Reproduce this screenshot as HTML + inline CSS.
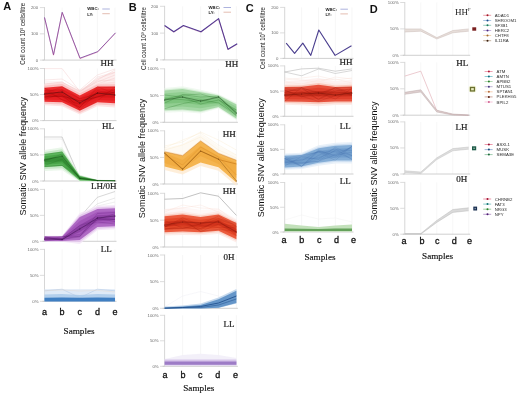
<!DOCTYPE html>
<html><head><meta charset="utf-8"><style>html,body{margin:0;padding:0;background:#fff;overflow:hidden}svg{display:block;will-change:transform}</style></head>
<body><svg width="520" height="394" viewBox="0 0 520 394"><rect x="0" y="0" width="520" height="394" fill="#fff"/>
<text x="3.2" y="10.4" font-family='"Liberation Sans", sans-serif' font-size="11" fill="#111" font-weight="bold" text-anchor="start" >A</text>
<text x="128.8" y="10.6" font-family='"Liberation Sans", sans-serif' font-size="11" fill="#111" font-weight="bold" text-anchor="start" >B</text>
<text x="245.8" y="12.3" font-family='"Liberation Sans", sans-serif' font-size="11" fill="#111" font-weight="bold" text-anchor="start" >C</text>
<text x="369.8" y="12.9" font-family='"Liberation Sans", sans-serif' font-size="11" fill="#111" font-weight="bold" text-anchor="start" >D</text>
<line x1="62.1" y1="7.6" x2="62.1" y2="60.1" stroke="#f0f0f0" stroke-width="0.6" opacity="1"/>
<line x1="79.8" y1="7.6" x2="79.8" y2="60.1" stroke="#f0f0f0" stroke-width="0.6" opacity="1"/>
<line x1="97.4" y1="7.6" x2="97.4" y2="60.1" stroke="#f0f0f0" stroke-width="0.6" opacity="1"/>
<line x1="115" y1="7.6" x2="115" y2="60.1" stroke="#f0f0f0" stroke-width="0.6" opacity="1"/>
<line x1="44.5" y1="7.1" x2="44.5" y2="60.1" stroke="#c4c4c4" stroke-width="0.7" opacity="1"/>
<line x1="42.5" y1="60.1" x2="116.5" y2="60.1" stroke="#c4c4c4" stroke-width="0.8" opacity="1"/>
<line x1="39.9" y1="7.6" x2="44.2" y2="7.6" stroke="#c4c4c4" stroke-width="0.6" opacity="1"/>
<text x="38.1" y="9.1" font-family='"Liberation Sans", sans-serif' font-size="4.3" fill="#6a6a6a" font-weight="normal" text-anchor="end" >200</text>
<line x1="39.9" y1="33.85" x2="44.2" y2="33.85" stroke="#c4c4c4" stroke-width="0.6" opacity="1"/>
<text x="38.1" y="35.35" font-family='"Liberation Sans", sans-serif' font-size="4.3" fill="#6a6a6a" font-weight="normal" text-anchor="end" >100</text>
<line x1="39.9" y1="60.1" x2="44.2" y2="60.1" stroke="#c4c4c4" stroke-width="0.6" opacity="1"/>
<text x="38.1" y="61.6" font-family='"Liberation Sans", sans-serif' font-size="4.3" fill="#6a6a6a" font-weight="normal" text-anchor="end" >0</text>
<polyline points="44.5,17.4 53.5,54.8 62.2,12.3 80,58.2 97.8,51.6 115.5,32.8" fill="none" stroke="#7a50a8" stroke-width="0.9" opacity="1" stroke-linejoin="round"/>
<polyline points="44.5,17.85 53.5,55.25 62.2,12.75 80,58.65 97.8,52.05 115.5,33.25" fill="none" stroke="#c84078" stroke-width="0.5" opacity="0.6" stroke-linejoin="round"/>
<text x="87.3" y="10.3" font-family='"Liberation Sans", sans-serif' font-size="4.3" fill="#222" font-weight="bold" text-anchor="start" >WBC:</text>
<text x="87.3" y="15.5" font-family='"Liberation Sans", sans-serif' font-size="4.3" fill="#222" font-weight="bold" text-anchor="start" >LY:</text>
<line x1="102.3" y1="9" x2="109.8" y2="9" stroke="#8a92d0" stroke-width="0.7" opacity="1"/>
<line x1="102.3" y1="13.7" x2="109.8" y2="13.7" stroke="#d8a090" stroke-width="0.7" opacity="1"/>
<text transform="translate(25.1,33.8) rotate(-90)" font-family='"Liberation Sans", sans-serif' font-size="6.5" fill="#1a1a1a" text-anchor="middle" textLength="62" lengthAdjust="spacingAndGlyphs">Cell count 10<tspan font-size="4" dy="-2.2">9</tspan><tspan dy="2.2"> cells/litre</tspan></text>
<text x="113.4" y="66.3" font-family='"Liberation Serif", serif' font-size="9" fill="#222" font-weight="normal" text-anchor="end" stroke="#222" stroke-width="0.2">HH</text>
<line x1="62.1" y1="68.5" x2="62.1" y2="120.6" stroke="#f0f0f0" stroke-width="0.6" opacity="1"/>
<line x1="79.8" y1="68.5" x2="79.8" y2="120.6" stroke="#f0f0f0" stroke-width="0.6" opacity="1"/>
<line x1="97.4" y1="68.5" x2="97.4" y2="120.6" stroke="#f0f0f0" stroke-width="0.6" opacity="1"/>
<line x1="115" y1="68.5" x2="115" y2="120.6" stroke="#f0f0f0" stroke-width="0.6" opacity="1"/>
<line x1="44.5" y1="68" x2="44.5" y2="120.6" stroke="#c4c4c4" stroke-width="0.7" opacity="1"/>
<line x1="42.5" y1="120.6" x2="116.5" y2="120.6" stroke="#c4c4c4" stroke-width="0.8" opacity="1"/>
<line x1="39.9" y1="68.5" x2="44.2" y2="68.5" stroke="#c4c4c4" stroke-width="0.6" opacity="1"/>
<text x="38.5" y="70" font-family='"Liberation Sans", sans-serif' font-size="4.3" fill="#6a6a6a" font-weight="normal" text-anchor="end" >100%</text>
<line x1="39.9" y1="94.55" x2="44.2" y2="94.55" stroke="#c4c4c4" stroke-width="0.6" opacity="1"/>
<text x="38.5" y="96.05" font-family='"Liberation Sans", sans-serif' font-size="4.3" fill="#6a6a6a" font-weight="normal" text-anchor="end" >50%</text>
<line x1="39.9" y1="120.6" x2="44.2" y2="120.6" stroke="#c4c4c4" stroke-width="0.6" opacity="1"/>
<text x="38.5" y="122.1" font-family='"Liberation Sans", sans-serif' font-size="4.3" fill="#6a6a6a" font-weight="normal" text-anchor="end" >0%</text>
<polygon points="44.5,84 62.1,82 79.8,90 97.4,79 115,72 115,87 97.4,87 79.8,96 62.1,87 44.5,88" fill="#fdeaea" opacity="0.9"/>
<polygon points="79.8,91 97.4,78.4 115,71.5 115,86 97.4,86 79.8,92" fill="#fdf0f0" opacity="0.9"/>
<polyline points="44.5,68.6 62.1,68.6 79.8,91.5 97.4,78.4 115,72.6" fill="none" stroke="#f2c0c0" stroke-width="0.45" opacity="0.8" stroke-linejoin="round"/>
<polyline points="44.5,80 62.1,79 79.8,90 97.4,75 115,69" fill="none" stroke="#f2c0c0" stroke-width="0.45" opacity="0.8" stroke-linejoin="round"/>
<polyline points="44.5,86 62.1,84 79.8,92 97.4,80 115,70" fill="none" stroke="#f2c0c0" stroke-width="0.45" opacity="0.8" stroke-linejoin="round"/>
<polyline points="44.5,85 62.1,84 79.8,94 97.4,84 115,78" fill="none" stroke="#f2c0c0" stroke-width="0.45" opacity="0.8" stroke-linejoin="round"/>
<polyline points="44.5,86 62.1,85 79.8,93 97.4,77 115,72" fill="none" stroke="#f2c0c0" stroke-width="0.45" opacity="0.8" stroke-linejoin="round"/>
<polyline points="44.5,84 62.1,83 79.8,91 97.4,82 115,75" fill="none" stroke="#f2c0c0" stroke-width="0.45" opacity="0.8" stroke-linejoin="round"/>
<polyline points="44.5,82 62.1,82 79.8,92 97.4,85 115,82" fill="none" stroke="#f2c0c0" stroke-width="0.45" opacity="0.8" stroke-linejoin="round"/>
<polyline points="44.5,84 62.1,82 79.8,93 97.4,81 115,80" fill="none" stroke="#f2c0c0" stroke-width="0.45" opacity="0.8" stroke-linejoin="round"/>
<polygon points="44.5,84.32 62.1,82.3 79.8,91.68 97.4,82.67 115,82.32 115,107.38 97.4,106.22 79.8,114.62 62.1,106.3 44.5,105.18" fill="#fde0e0" opacity="0.8"/>
<polygon points="44.5,85.85 62.1,84.06 79.8,93.36 97.4,84.4 115,84.16 115,105.54 97.4,104.5 79.8,112.94 62.1,104.54 44.5,103.65" fill="#f8b0b0" opacity="0.6"/>
<polygon points="44.5,87.8 62.1,86.3 79.8,95.5 97.4,86.6 115,86.5 115,103.2 97.4,102.3 79.8,110.8 62.1,102.3 44.5,101.7" fill="#ea1c1e" opacity="0.9"/>
<polygon points="44.5,89.88 62.1,88.7 79.8,97.8 97.4,88.95 115,89 115,100.69 97.4,99.94 79.8,108.51 62.1,99.9 44.5,99.62" fill="#e01216" opacity="0.5"/>
<polygon points="44.5,92.32 62.1,91.5 79.8,100.47 97.4,91.7 115,91.93 115,97.77 97.4,97.2 79.8,105.83 62.1,97.1 44.5,97.18" fill="#b80808" opacity="0.3"/>
<polyline points="44.5,89.67 62.1,99.86 79.8,107.19 97.4,90.6 115,94.77" fill="none" stroke="#a00000" stroke-width="0.4" opacity="0.4" stroke-linejoin="round"/>
<polyline points="44.5,94.05 62.1,96.73 79.8,107.57 97.4,88.07 115,86.97" fill="none" stroke="#a00000" stroke-width="0.4" opacity="0.4" stroke-linejoin="round"/>
<polyline points="44.5,99.42 62.1,93.22 79.8,107.16 97.4,86.63 115,93.94" fill="none" stroke="#a00000" stroke-width="0.4" opacity="0.4" stroke-linejoin="round"/>
<polyline points="44.5,97.83 62.1,89.96 79.8,109.96 97.4,100.75 115,87.01" fill="none" stroke="#a00000" stroke-width="0.4" opacity="0.4" stroke-linejoin="round"/>
<polyline points="44.5,88.15 62.1,94.96 79.8,109.87 97.4,92.58 115,90.12" fill="none" stroke="#a00000" stroke-width="0.4" opacity="0.4" stroke-linejoin="round"/>
<polyline points="44.5,93.67 62.1,86.76 79.8,98.89 97.4,93.47 115,94.78" fill="none" stroke="#a00000" stroke-width="0.4" opacity="0.4" stroke-linejoin="round"/>
<polyline points="44.5,91.04 62.1,89.99 79.8,98.85 97.4,93.82 115,91.34" fill="none" stroke="#a00000" stroke-width="0.4" opacity="0.4" stroke-linejoin="round"/>
<polyline points="44.5,88.1 62.1,99.7 79.8,104.01 97.4,96.68 115,89.6" fill="none" stroke="#a00000" stroke-width="0.4" opacity="0.4" stroke-linejoin="round"/>
<polyline points="44.5,94 62.1,92 79.8,103 97.4,93 115,95" fill="none" stroke="#2a1010" stroke-width="0.5" opacity="0.85" stroke-linejoin="round"/>
<circle cx="44.5" cy="94" r="0.6" fill="#2a1010" opacity="0.85"/>
<circle cx="62.1" cy="92" r="0.6" fill="#2a1010" opacity="0.85"/>
<circle cx="79.8" cy="103" r="0.6" fill="#2a1010" opacity="0.85"/>
<circle cx="97.4" cy="93" r="0.6" fill="#2a1010" opacity="0.85"/>
<circle cx="115" cy="95" r="0.6" fill="#2a1010" opacity="0.85"/>
<polyline points="44.5,97 62.1,96 79.8,101 97.4,97 115,92" fill="none" stroke="#500000" stroke-width="0.4" opacity="0.6" stroke-linejoin="round"/>
<text x="113.9" y="128.5" font-family='"Liberation Serif", serif' font-size="9" fill="#222" font-weight="normal" text-anchor="end" stroke="#222" stroke-width="0.2">HL</text>
<line x1="62.1" y1="128.8" x2="62.1" y2="181" stroke="#f0f0f0" stroke-width="0.6" opacity="1"/>
<line x1="79.8" y1="128.8" x2="79.8" y2="181" stroke="#f0f0f0" stroke-width="0.6" opacity="1"/>
<line x1="97.4" y1="128.8" x2="97.4" y2="181" stroke="#f0f0f0" stroke-width="0.6" opacity="1"/>
<line x1="115" y1="128.8" x2="115" y2="181" stroke="#f0f0f0" stroke-width="0.6" opacity="1"/>
<line x1="44.5" y1="128.3" x2="44.5" y2="181" stroke="#c4c4c4" stroke-width="0.7" opacity="1"/>
<line x1="42.5" y1="181" x2="116.5" y2="181" stroke="#c4c4c4" stroke-width="0.8" opacity="1"/>
<line x1="39.9" y1="128.8" x2="44.2" y2="128.8" stroke="#c4c4c4" stroke-width="0.6" opacity="1"/>
<text x="38.5" y="130.3" font-family='"Liberation Sans", sans-serif' font-size="4.3" fill="#6a6a6a" font-weight="normal" text-anchor="end" >100%</text>
<line x1="39.9" y1="154.9" x2="44.2" y2="154.9" stroke="#c4c4c4" stroke-width="0.6" opacity="1"/>
<text x="38.5" y="156.4" font-family='"Liberation Sans", sans-serif' font-size="4.3" fill="#6a6a6a" font-weight="normal" text-anchor="end" >50%</text>
<line x1="39.9" y1="181" x2="44.2" y2="181" stroke="#c4c4c4" stroke-width="0.6" opacity="1"/>
<text x="38.5" y="182.5" font-family='"Liberation Sans", sans-serif' font-size="4.3" fill="#6a6a6a" font-weight="normal" text-anchor="end" >0%</text>
<polyline points="44.5,137 62.1,137 79.8,178 97.4,180.5 115,181" fill="none" stroke="#a0a0a0" stroke-width="0.5" opacity="0.9" stroke-linejoin="round"/>
<polyline points="44.5,139 62.1,139 79.8,178 97.4,180.5 115,181" fill="none" stroke="#d0d0d0" stroke-width="0.5" opacity="0.7" stroke-linejoin="round"/>
<polygon points="44.5,150.1 62.1,147.15 79.8,174.68 97.4,179.96 115,180.35 115,181.15 97.4,181.24 79.8,181.72 62.1,170.35 44.5,170.9" fill="#e4f4e4" opacity="0.8"/>
<polygon points="44.5,152.05 62.1,149.32 79.8,175.34 97.4,180.08 115,180.43 115,181.07 97.4,181.12 79.8,181.06 62.1,168.18 44.5,168.95" fill="#b0e0b0" opacity="0.6"/>
<polygon points="44.5,154 62.1,151.5 79.8,176 97.4,180.2 115,180.5 115,181 97.4,181 79.8,180.4 62.1,166 44.5,167" fill="#4aac4a" opacity="0.85"/>
<polygon points="44.5,156.28 62.1,154.04 79.8,176.77 97.4,180.34 115,180.59 115,180.91 97.4,180.86 79.8,179.63 62.1,163.46 44.5,164.72" fill="#2e922e" opacity="0.45"/>
<polygon points="44.5,158.55 62.1,156.57 79.8,177.54 97.4,180.48 115,180.68 115,180.82 97.4,180.72 79.8,178.86 62.1,160.93 44.5,162.45" fill="#1a6a1a" opacity="0.35"/>
<polyline points="44.5,166.43 62.1,165.24 79.8,176.25 97.4,180.27 115,180.92" fill="none" stroke="#106010" stroke-width="0.4" opacity="0.4" stroke-linejoin="round"/>
<polyline points="44.5,163.57 62.1,161.21 79.8,177.36 97.4,180.68 115,180.8" fill="none" stroke="#106010" stroke-width="0.4" opacity="0.4" stroke-linejoin="round"/>
<polyline points="44.5,161.56 62.1,153.8 79.8,177.89 97.4,180.51 115,180.86" fill="none" stroke="#106010" stroke-width="0.4" opacity="0.4" stroke-linejoin="round"/>
<polyline points="44.5,166.93 62.1,165.27 79.8,178.39 97.4,180.56 115,180.63" fill="none" stroke="#106010" stroke-width="0.4" opacity="0.4" stroke-linejoin="round"/>
<polyline points="44.5,154.47 62.1,151.9 79.8,178.05 97.4,180.45 115,180.69" fill="none" stroke="#106010" stroke-width="0.4" opacity="0.4" stroke-linejoin="round"/>
<polyline points="44.5,165.59 62.1,159.12 79.8,178.47 97.4,180.39 115,180.51" fill="none" stroke="#106010" stroke-width="0.4" opacity="0.4" stroke-linejoin="round"/>
<polyline points="44.5,160 62.1,156 79.8,178.5 97.4,180.6 115,180.8" fill="none" stroke="#0a300a" stroke-width="0.45" opacity="0.7" stroke-linejoin="round"/>
<circle cx="44.5" cy="160" r="0.6" fill="#0a300a" opacity="0.7"/>
<circle cx="62.1" cy="156" r="0.6" fill="#0a300a" opacity="0.7"/>
<circle cx="79.8" cy="178.5" r="0.6" fill="#0a300a" opacity="0.7"/>
<circle cx="97.4" cy="180.6" r="0.6" fill="#0a300a" opacity="0.7"/>
<circle cx="115" cy="180.8" r="0.6" fill="#0a300a" opacity="0.7"/>
<text x="116.6" y="188.6" font-family='"Liberation Serif", serif' font-size="9" fill="#222" font-weight="normal" text-anchor="end" stroke="#222" stroke-width="0.2">LH/0H</text>
<line x1="62.1" y1="189.4" x2="62.1" y2="241.3" stroke="#f0f0f0" stroke-width="0.6" opacity="1"/>
<line x1="79.8" y1="189.4" x2="79.8" y2="241.3" stroke="#f0f0f0" stroke-width="0.6" opacity="1"/>
<line x1="97.4" y1="189.4" x2="97.4" y2="241.3" stroke="#f0f0f0" stroke-width="0.6" opacity="1"/>
<line x1="115" y1="189.4" x2="115" y2="241.3" stroke="#f0f0f0" stroke-width="0.6" opacity="1"/>
<line x1="44.5" y1="188.9" x2="44.5" y2="241.3" stroke="#c4c4c4" stroke-width="0.7" opacity="1"/>
<line x1="42.5" y1="241.3" x2="116.5" y2="241.3" stroke="#c4c4c4" stroke-width="0.8" opacity="1"/>
<line x1="39.9" y1="189.4" x2="44.2" y2="189.4" stroke="#c4c4c4" stroke-width="0.6" opacity="1"/>
<text x="38.5" y="190.9" font-family='"Liberation Sans", sans-serif' font-size="4.3" fill="#6a6a6a" font-weight="normal" text-anchor="end" >100%</text>
<line x1="39.9" y1="215.35" x2="44.2" y2="215.35" stroke="#c4c4c4" stroke-width="0.6" opacity="1"/>
<text x="38.5" y="216.85" font-family='"Liberation Sans", sans-serif' font-size="4.3" fill="#6a6a6a" font-weight="normal" text-anchor="end" >50%</text>
<line x1="39.9" y1="241.3" x2="44.2" y2="241.3" stroke="#c4c4c4" stroke-width="0.6" opacity="1"/>
<text x="38.5" y="242.8" font-family='"Liberation Sans", sans-serif' font-size="4.3" fill="#6a6a6a" font-weight="normal" text-anchor="end" >0%</text>
<polyline points="44.5,239 62.1,239 79.8,217 97.4,197.3 115,191.5" fill="none" stroke="#a8a8a8" stroke-width="0.5" opacity="0.9" stroke-linejoin="round"/>
<polyline points="44.5,239 62.1,239 79.8,219 97.4,203.8 115,198" fill="none" stroke="#c8c8c8" stroke-width="0.5" opacity="0.8" stroke-linejoin="round"/>
<polyline points="44.5,239 62.1,239 79.8,221 97.4,206 115,202" fill="none" stroke="#dadada" stroke-width="0.5" opacity="0.8" stroke-linejoin="round"/>
<polygon points="44.5,235.71 62.1,235.71 79.8,212.97 97.4,205.73 115,205.05 115,229.35 97.4,230.17 79.8,244.03 62.1,241.79 44.5,241.79" fill="#f2e4f6" opacity="0.8"/>
<polygon points="44.5,236.09 62.1,236.09 79.8,214.93 97.4,207.27 115,206.58 115,227.82 97.4,228.63 79.8,242.07 62.1,241.41 44.5,241.41" fill="#dcb8e8" opacity="0.6"/>
<polygon points="44.5,236.5 62.1,236.5 79.8,217 97.4,208.9 115,208.2 115,226.2 97.4,227 79.8,240 62.1,241 44.5,241" fill="#a558bc" opacity="0.85"/>
<polygon points="44.5,237.29 62.1,237.29 79.8,221.03 97.4,212.07 115,211.35 115,223.05 97.4,223.83 79.8,235.97 62.1,240.21 44.5,240.21" fill="#9844b0" opacity="0.5"/>
<polygon points="44.5,238.07 62.1,238.07 79.8,225.05 97.4,215.23 115,214.5 115,219.9 97.4,220.66 79.8,231.95 62.1,239.43 44.5,239.43" fill="#6a2080" opacity="0.35"/>
<polyline points="44.5,237.57 62.1,238.95 79.8,225.51 97.4,219.83 115,219.46" fill="none" stroke="#50106a" stroke-width="0.4" opacity="0.5" stroke-linejoin="round"/>
<polyline points="44.5,236.79 62.1,236.56 79.8,236.26 97.4,213.59 115,212.42" fill="none" stroke="#50106a" stroke-width="0.4" opacity="0.5" stroke-linejoin="round"/>
<polyline points="44.5,240.98 62.1,238.62 79.8,236.24 97.4,217.52 115,219.7" fill="none" stroke="#50106a" stroke-width="0.4" opacity="0.5" stroke-linejoin="round"/>
<polyline points="44.5,237.18 62.1,239.36 79.8,236.97 97.4,218.37 115,221.54" fill="none" stroke="#50106a" stroke-width="0.4" opacity="0.5" stroke-linejoin="round"/>
<polyline points="44.5,239.52 62.1,236.79 79.8,234.44 97.4,219.6 115,213.62" fill="none" stroke="#50106a" stroke-width="0.4" opacity="0.5" stroke-linejoin="round"/>
<polyline points="44.5,236.64 62.1,240.39 79.8,227.87 97.4,221.91 115,224.02" fill="none" stroke="#50106a" stroke-width="0.4" opacity="0.5" stroke-linejoin="round"/>
<polyline points="44.5,239 62.1,239.5 79.8,229 97.4,218 115,216" fill="none" stroke="#300840" stroke-width="0.5" opacity="0.85" stroke-linejoin="round"/>
<circle cx="44.5" cy="239" r="0.6" fill="#300840" opacity="0.85"/>
<circle cx="62.1" cy="239.5" r="0.6" fill="#300840" opacity="0.85"/>
<circle cx="79.8" cy="229" r="0.6" fill="#300840" opacity="0.85"/>
<circle cx="97.4" cy="218" r="0.6" fill="#300840" opacity="0.85"/>
<circle cx="115" cy="216" r="0.6" fill="#300840" opacity="0.85"/>
<text x="111.7" y="251.5" font-family='"Liberation Serif", serif' font-size="9" fill="#222" font-weight="normal" text-anchor="end" stroke="#222" stroke-width="0.2">LL</text>
<line x1="62.1" y1="249.4" x2="62.1" y2="301.3" stroke="#f0f0f0" stroke-width="0.6" opacity="1"/>
<line x1="79.8" y1="249.4" x2="79.8" y2="301.3" stroke="#f0f0f0" stroke-width="0.6" opacity="1"/>
<line x1="97.4" y1="249.4" x2="97.4" y2="301.3" stroke="#f0f0f0" stroke-width="0.6" opacity="1"/>
<line x1="115" y1="249.4" x2="115" y2="301.3" stroke="#f0f0f0" stroke-width="0.6" opacity="1"/>
<line x1="44.5" y1="248.9" x2="44.5" y2="301.3" stroke="#c4c4c4" stroke-width="0.7" opacity="1"/>
<line x1="42.5" y1="301.3" x2="116.5" y2="301.3" stroke="#c4c4c4" stroke-width="0.8" opacity="1"/>
<line x1="39.9" y1="249.4" x2="44.2" y2="249.4" stroke="#c4c4c4" stroke-width="0.6" opacity="1"/>
<text x="38.5" y="250.9" font-family='"Liberation Sans", sans-serif' font-size="4.3" fill="#6a6a6a" font-weight="normal" text-anchor="end" >100%</text>
<line x1="39.9" y1="275.35" x2="44.2" y2="275.35" stroke="#c4c4c4" stroke-width="0.6" opacity="1"/>
<text x="38.5" y="276.85" font-family='"Liberation Sans", sans-serif' font-size="4.3" fill="#6a6a6a" font-weight="normal" text-anchor="end" >50%</text>
<line x1="39.9" y1="301.3" x2="44.2" y2="301.3" stroke="#c4c4c4" stroke-width="0.6" opacity="1"/>
<text x="38.5" y="302.8" font-family='"Liberation Sans", sans-serif' font-size="4.3" fill="#6a6a6a" font-weight="normal" text-anchor="end" >0%</text>
<polygon points="44.5,289.2 62.1,289.2 79.8,289.2 97.4,289.2 115,289.2 115,301.3 97.4,301.3 79.8,301.3 62.1,301.3 44.5,301.3" fill="#dce8f6" opacity="0.9"/>
<polyline points="44.5,290.8 62.1,289.2 79.8,297.7 97.4,289.2 115,290.8" fill="none" stroke="#b0c8e4" stroke-width="0.6" opacity="0.9" stroke-linejoin="round"/>
<polyline points="44.5,290.8 62.1,290 79.8,291 97.4,290.4 115,292" fill="none" stroke="#e8d8c8" stroke-width="0.5" opacity="0.8" stroke-linejoin="round"/>
<polygon points="44.5,294.5 62.1,294 79.8,295 97.4,294 115,294.5 115,301.3 97.4,301.3 79.8,301.3 62.1,301.3 44.5,301.3" fill="#a8c8e8" opacity="0.8"/>
<polygon points="44.5,297.7 62.1,297.5 79.8,297.7 97.4,297.5 115,297.7 115,301.5 97.4,301.5 79.8,301.5 62.1,301.5 44.5,301.5" fill="#3a7ac0" opacity="0.95"/>
<text x="44.5" y="315.4" font-family='"Liberation Sans", sans-serif' font-size="9" fill="#111" font-weight="normal" text-anchor="middle" stroke="#111" stroke-width="0.3">a</text>
<text x="62.1" y="315.4" font-family='"Liberation Sans", sans-serif' font-size="9" fill="#111" font-weight="normal" text-anchor="middle" stroke="#111" stroke-width="0.3">b</text>
<text x="79.8" y="315.4" font-family='"Liberation Sans", sans-serif' font-size="9" fill="#111" font-weight="normal" text-anchor="middle" stroke="#111" stroke-width="0.3">c</text>
<text x="97.4" y="315.4" font-family='"Liberation Sans", sans-serif' font-size="9" fill="#111" font-weight="normal" text-anchor="middle" stroke="#111" stroke-width="0.3">d</text>
<text x="115" y="315.4" font-family='"Liberation Sans", sans-serif' font-size="9" fill="#111" font-weight="normal" text-anchor="middle" stroke="#111" stroke-width="0.3">e</text>
<text x="79.1" y="334.2" font-family='"Liberation Serif", serif' font-size="9.2" fill="#111" font-weight="normal" text-anchor="middle" stroke="#111" stroke-width="0.15">Samples</text>
<text transform="translate(26.4,156.2) rotate(-90)" font-family='"Liberation Sans", sans-serif' font-size="9" fill="#111" text-anchor="middle" textLength="118.4" lengthAdjust="spacingAndGlyphs">Somatic SNV allele frequency</text>
<line x1="182.6" y1="6.3" x2="182.6" y2="59.9" stroke="#f0f0f0" stroke-width="0.6" opacity="1"/>
<line x1="200.6" y1="6.3" x2="200.6" y2="59.9" stroke="#f0f0f0" stroke-width="0.6" opacity="1"/>
<line x1="218.5" y1="6.3" x2="218.5" y2="59.9" stroke="#f0f0f0" stroke-width="0.6" opacity="1"/>
<line x1="236.4" y1="6.3" x2="236.4" y2="59.9" stroke="#f0f0f0" stroke-width="0.6" opacity="1"/>
<line x1="164.6" y1="5.8" x2="164.6" y2="59.9" stroke="#c4c4c4" stroke-width="0.7" opacity="1"/>
<line x1="162.6" y1="59.9" x2="237.9" y2="59.9" stroke="#c4c4c4" stroke-width="0.8" opacity="1"/>
<line x1="160" y1="6.3" x2="164.3" y2="6.3" stroke="#c4c4c4" stroke-width="0.6" opacity="1"/>
<text x="158.2" y="7.8" font-family='"Liberation Sans", sans-serif' font-size="4.3" fill="#6a6a6a" font-weight="normal" text-anchor="end" >200</text>
<line x1="160" y1="33.1" x2="164.3" y2="33.1" stroke="#c4c4c4" stroke-width="0.6" opacity="1"/>
<text x="158.2" y="34.6" font-family='"Liberation Sans", sans-serif' font-size="4.3" fill="#6a6a6a" font-weight="normal" text-anchor="end" >100</text>
<line x1="160" y1="59.9" x2="164.3" y2="59.9" stroke="#c4c4c4" stroke-width="0.6" opacity="1"/>
<text x="158.2" y="61.4" font-family='"Liberation Sans", sans-serif' font-size="4.3" fill="#6a6a6a" font-weight="normal" text-anchor="end" >0</text>
<polyline points="164.6,25.5 173.8,31.8 183.4,25.5 201,31.8 218.6,18.6 228,49.3 237.2,43.8" fill="none" stroke="#4a3a98" stroke-width="1.1" opacity="1" stroke-linejoin="round"/>
<polyline points="164.6,25.95 173.8,32.25 183.4,25.95 201,32.25 218.6,19.05 228,49.75 237.2,44.25" fill="none" stroke="#903070" stroke-width="0.5" opacity="0.6" stroke-linejoin="round"/>
<text x="208.5" y="8.8" font-family='"Liberation Sans", sans-serif' font-size="4.3" fill="#222" font-weight="bold" text-anchor="start" >WBC:</text>
<text x="208.5" y="14" font-family='"Liberation Sans", sans-serif' font-size="4.3" fill="#222" font-weight="bold" text-anchor="start" >LY:</text>
<line x1="223.5" y1="7.5" x2="231" y2="7.5" stroke="#8a92d0" stroke-width="0.7" opacity="1"/>
<line x1="223.5" y1="12.2" x2="231" y2="12.2" stroke="#d8a090" stroke-width="0.7" opacity="1"/>
<text transform="translate(145.8,38.5) rotate(-90)" font-family='"Liberation Sans", sans-serif' font-size="6.5" fill="#1a1a1a" text-anchor="middle" textLength="63" lengthAdjust="spacingAndGlyphs">Cell count 10<tspan font-size="4" dy="-2.2">9</tspan><tspan dy="2.2"> cells/litre</tspan></text>
<text x="238.2" y="66.6" font-family='"Liberation Serif", serif' font-size="9" fill="#222" font-weight="normal" text-anchor="end" stroke="#222" stroke-width="0.2">HH</text>
<line x1="182.6" y1="68.8" x2="182.6" y2="122.3" stroke="#f0f0f0" stroke-width="0.6" opacity="1"/>
<line x1="200.6" y1="68.8" x2="200.6" y2="122.3" stroke="#f0f0f0" stroke-width="0.6" opacity="1"/>
<line x1="218.5" y1="68.8" x2="218.5" y2="122.3" stroke="#f0f0f0" stroke-width="0.6" opacity="1"/>
<line x1="236.4" y1="68.8" x2="236.4" y2="122.3" stroke="#f0f0f0" stroke-width="0.6" opacity="1"/>
<line x1="164.6" y1="68.3" x2="164.6" y2="122.3" stroke="#c4c4c4" stroke-width="0.7" opacity="1"/>
<line x1="162.6" y1="122.3" x2="237.9" y2="122.3" stroke="#c4c4c4" stroke-width="0.8" opacity="1"/>
<line x1="160" y1="68.8" x2="164.3" y2="68.8" stroke="#c4c4c4" stroke-width="0.6" opacity="1"/>
<text x="158.6" y="70.3" font-family='"Liberation Sans", sans-serif' font-size="4.3" fill="#6a6a6a" font-weight="normal" text-anchor="end" >100%</text>
<line x1="160" y1="95.55" x2="164.3" y2="95.55" stroke="#c4c4c4" stroke-width="0.6" opacity="1"/>
<text x="158.6" y="97.05" font-family='"Liberation Sans", sans-serif' font-size="4.3" fill="#6a6a6a" font-weight="normal" text-anchor="end" >50%</text>
<line x1="160" y1="122.3" x2="164.3" y2="122.3" stroke="#c4c4c4" stroke-width="0.6" opacity="1"/>
<text x="158.6" y="123.8" font-family='"Liberation Sans", sans-serif' font-size="4.3" fill="#6a6a6a" font-weight="normal" text-anchor="end" >0%</text>
<polygon points="164.6,88.03 182.6,86.33 200.6,89.83 218.5,94.06 236.4,102.85 236.4,120.35 218.5,108.44 200.6,113.58 182.6,112.08 164.6,112.78" fill="#ecf8ec" opacity="0.8"/>
<polygon points="164.6,89.51 182.6,87.87 200.6,91.25 218.5,94.92 236.4,103.9 236.4,119.3 218.5,107.58 200.6,112.15 182.6,110.53 164.6,111.29" fill="#cceacc" opacity="0.7"/>
<polygon points="164.6,90.5 182.6,88.9 200.6,92.2 218.5,95.5 236.4,104.6 236.4,118.6 218.5,107 200.6,111.2 182.6,109.5 164.6,110.3" fill="#9ad29a" opacity="0.8"/>
<polygon points="164.6,93.47 182.6,91.99 200.6,95.05 218.5,97.22 236.4,106.7 236.4,116.5 218.5,105.28 200.6,108.35 182.6,106.41 164.6,107.33" fill="#7cc47c" opacity="0.5"/>
<polygon points="164.6,96.94 182.6,95.59 200.6,98.38 218.5,99.24 236.4,109.15 236.4,114.05 218.5,103.26 200.6,105.03 182.6,102.81 164.6,103.87" fill="#5ab05a" opacity="0.35"/>
<polyline points="164.6,99.6 182.6,94.7 200.6,97.1 218.5,96.3 236.4,112" fill="none" stroke="#2a7a2a" stroke-width="0.45" opacity="0.65" stroke-linejoin="round"/>
<polyline points="164.6,108.7 182.6,103.7 200.6,100 218.5,103 236.4,115" fill="none" stroke="#2a7a2a" stroke-width="0.45" opacity="0.65" stroke-linejoin="round"/>
<polyline points="164.6,98.8 182.6,99.6 200.6,102 218.5,97 236.4,114.5" fill="none" stroke="#2a7a2a" stroke-width="0.45" opacity="0.65" stroke-linejoin="round"/>
<polyline points="164.6,95 182.6,97 200.6,104 218.5,100 236.4,110" fill="none" stroke="#2a7a2a" stroke-width="0.45" opacity="0.65" stroke-linejoin="round"/>
<polyline points="164.6,103 182.6,95 200.6,94 218.5,99 236.4,116" fill="none" stroke="#2a7a2a" stroke-width="0.45" opacity="0.65" stroke-linejoin="round"/>
<polyline points="164.6,100 182.6,97 200.6,101 218.5,97 236.4,113" fill="none" stroke="#0a300a" stroke-width="0.5" opacity="0.8" stroke-linejoin="round"/>
<circle cx="164.6" cy="100" r="0.6" fill="#0a300a" opacity="0.8"/>
<circle cx="182.6" cy="97" r="0.6" fill="#0a300a" opacity="0.8"/>
<circle cx="200.6" cy="101" r="0.6" fill="#0a300a" opacity="0.8"/>
<circle cx="218.5" cy="97" r="0.6" fill="#0a300a" opacity="0.8"/>
<circle cx="236.4" cy="113" r="0.6" fill="#0a300a" opacity="0.8"/>
<text x="235.8" y="137.4" font-family='"Liberation Serif", serif' font-size="9" fill="#222" font-weight="normal" text-anchor="end" stroke="#222" stroke-width="0.2">HH</text>
<line x1="182.6" y1="130.8" x2="182.6" y2="184" stroke="#f0f0f0" stroke-width="0.6" opacity="1"/>
<line x1="200.6" y1="130.8" x2="200.6" y2="184" stroke="#f0f0f0" stroke-width="0.6" opacity="1"/>
<line x1="218.5" y1="130.8" x2="218.5" y2="184" stroke="#f0f0f0" stroke-width="0.6" opacity="1"/>
<line x1="236.4" y1="130.8" x2="236.4" y2="184" stroke="#f0f0f0" stroke-width="0.6" opacity="1"/>
<line x1="164.6" y1="130.3" x2="164.6" y2="184" stroke="#c4c4c4" stroke-width="0.7" opacity="1"/>
<line x1="162.6" y1="184" x2="237.9" y2="184" stroke="#c4c4c4" stroke-width="0.8" opacity="1"/>
<line x1="160" y1="130.8" x2="164.3" y2="130.8" stroke="#c4c4c4" stroke-width="0.6" opacity="1"/>
<text x="158.6" y="132.3" font-family='"Liberation Sans", sans-serif' font-size="4.3" fill="#6a6a6a" font-weight="normal" text-anchor="end" >100%</text>
<line x1="160" y1="157.4" x2="164.3" y2="157.4" stroke="#c4c4c4" stroke-width="0.6" opacity="1"/>
<text x="158.6" y="158.9" font-family='"Liberation Sans", sans-serif' font-size="4.3" fill="#6a6a6a" font-weight="normal" text-anchor="end" >50%</text>
<line x1="160" y1="184" x2="164.3" y2="184" stroke="#c4c4c4" stroke-width="0.6" opacity="1"/>
<text x="158.6" y="185.5" font-family='"Liberation Sans", sans-serif' font-size="4.3" fill="#6a6a6a" font-weight="normal" text-anchor="end" >0%</text>
<polygon points="164.6,148 182.6,144 200.6,134 218.5,146 236.4,155 236.4,161 218.5,154 200.6,142 182.6,156 164.6,152" fill="#fef8ee" opacity="0.7"/>
<polyline points="164.6,148 182.6,140 200.6,133 218.5,145 236.4,155" fill="none" stroke="#fae4c4" stroke-width="0.45" opacity="0.7" stroke-linejoin="round"/>
<polyline points="164.6,150 182.6,145 200.6,137 218.5,150 236.4,158" fill="none" stroke="#fae4c4" stroke-width="0.45" opacity="0.7" stroke-linejoin="round"/>
<polyline points="164.6,146 182.6,142 200.6,132 218.5,140 236.4,150" fill="none" stroke="#fae4c4" stroke-width="0.45" opacity="0.7" stroke-linejoin="round"/>
<polygon points="164.6,150.6 182.6,154.5 200.6,139.8 218.5,152.2 236.4,159.1 236.4,186.1 218.5,170.7 200.6,166.1 182.6,174.5 164.6,170" fill="#fde8cc" opacity="0.75"/>
<polygon points="164.6,151.8 182.6,155.7 200.6,141 218.5,153.4 236.4,160.3 236.4,182.6 218.5,167.2 200.6,162.6 182.6,171 164.6,166.5" fill="#f4ae40" opacity="0.9"/>
<polygon points="164.6,153 182.6,160 200.6,146 218.5,156 236.4,163 236.4,178 218.5,164 200.6,156 182.6,169 164.6,163" fill="#ec9a28" opacity="0.35"/>
<polyline points="164.6,151.8 182.6,155.7 200.6,141 218.5,153.4 236.4,160.3" fill="none" stroke="#c07020" stroke-width="0.5" opacity="0.8" stroke-linejoin="round"/>
<polyline points="164.6,153.4 182.6,169.5 200.6,151 218.5,159.5 236.4,164" fill="none" stroke="#c87818" stroke-width="0.7" opacity="0.9" stroke-linejoin="round"/>
<polyline points="164.6,155 182.6,165 200.6,147 218.5,157 236.4,175" fill="none" stroke="#d88820" stroke-width="0.5" opacity="0.7" stroke-linejoin="round"/>
<polyline points="164.6,153 182.6,169 200.6,151 218.5,159 236.4,181" fill="none" stroke="#6a3a08" stroke-width="0.5" opacity="0.75" stroke-linejoin="round"/>
<circle cx="164.6" cy="153" r="0.6" fill="#6a3a08" opacity="0.75"/>
<circle cx="182.6" cy="169" r="0.6" fill="#6a3a08" opacity="0.75"/>
<circle cx="200.6" cy="151" r="0.6" fill="#6a3a08" opacity="0.75"/>
<circle cx="218.5" cy="159" r="0.6" fill="#6a3a08" opacity="0.75"/>
<circle cx="236.4" cy="181" r="0.6" fill="#6a3a08" opacity="0.75"/>
<text x="235.8" y="193.7" font-family='"Liberation Serif", serif' font-size="9" fill="#222" font-weight="normal" text-anchor="end" stroke="#222" stroke-width="0.2">HH</text>
<line x1="182.6" y1="193.3" x2="182.6" y2="247" stroke="#f0f0f0" stroke-width="0.6" opacity="1"/>
<line x1="200.6" y1="193.3" x2="200.6" y2="247" stroke="#f0f0f0" stroke-width="0.6" opacity="1"/>
<line x1="218.5" y1="193.3" x2="218.5" y2="247" stroke="#f0f0f0" stroke-width="0.6" opacity="1"/>
<line x1="236.4" y1="193.3" x2="236.4" y2="247" stroke="#f0f0f0" stroke-width="0.6" opacity="1"/>
<line x1="164.6" y1="192.8" x2="164.6" y2="247" stroke="#c4c4c4" stroke-width="0.7" opacity="1"/>
<line x1="162.6" y1="247" x2="237.9" y2="247" stroke="#c4c4c4" stroke-width="0.8" opacity="1"/>
<line x1="160" y1="193.3" x2="164.3" y2="193.3" stroke="#c4c4c4" stroke-width="0.6" opacity="1"/>
<text x="158.6" y="194.8" font-family='"Liberation Sans", sans-serif' font-size="4.3" fill="#6a6a6a" font-weight="normal" text-anchor="end" >100%</text>
<line x1="160" y1="220.15" x2="164.3" y2="220.15" stroke="#c4c4c4" stroke-width="0.6" opacity="1"/>
<text x="158.6" y="221.65" font-family='"Liberation Sans", sans-serif' font-size="4.3" fill="#6a6a6a" font-weight="normal" text-anchor="end" >50%</text>
<line x1="160" y1="247" x2="164.3" y2="247" stroke="#c4c4c4" stroke-width="0.6" opacity="1"/>
<text x="158.6" y="248.5" font-family='"Liberation Sans", sans-serif' font-size="4.3" fill="#6a6a6a" font-weight="normal" text-anchor="end" >0%</text>
<polyline points="164.6,199.2 182.6,198.5 200.6,192.8 218.5,196.2 236.4,215.4" fill="none" stroke="#909090" stroke-width="0.55" opacity="1" stroke-linejoin="round"/>
<polygon points="164.6,209 182.6,207 200.6,210 218.5,209 236.4,219 236.4,223 218.5,214.6 200.6,217 182.6,214.6 164.6,216" fill="#fef4f2" opacity="0.7"/>
<polyline points="164.6,212 182.6,205 200.6,208 218.5,209 236.4,222" fill="none" stroke="#f8d8d0" stroke-width="0.45" opacity="0.7" stroke-linejoin="round"/>
<polyline points="164.6,210 182.6,208 200.6,205 218.5,212 236.4,225" fill="none" stroke="#f8d8d0" stroke-width="0.45" opacity="0.7" stroke-linejoin="round"/>
<polygon points="164.6,212.98 182.6,211.22 200.6,213.94 218.5,211.36 236.4,219.76 236.4,242.44 218.5,234.04 200.6,235.36 182.6,234.88 164.6,235.52" fill="#fde8e4" opacity="0.8"/>
<polygon points="164.6,214.75 182.6,213.08 200.6,215.62 218.5,213.14 236.4,221.54 236.4,240.66 218.5,232.26 200.6,233.68 182.6,233.02 164.6,233.75" fill="#f8c0b0" opacity="0.6"/>
<polygon points="164.6,216.2 182.6,214.6 200.6,217 218.5,214.6 236.4,223 236.4,239.2 218.5,230.8 200.6,232.3 182.6,231.5 164.6,232.3" fill="#e84a2a" opacity="0.88"/>
<polygon points="164.6,219.02 182.6,217.56 200.6,219.68 218.5,217.43 236.4,225.84 236.4,236.36 218.5,227.97 200.6,229.62 182.6,228.54 164.6,229.48" fill="#e03a1a" opacity="0.6"/>
<polygon points="164.6,221.84 182.6,220.52 200.6,222.36 218.5,220.27 236.4,228.67 236.4,233.53 218.5,225.13 200.6,226.94 182.6,225.59 164.6,226.66" fill="#c02010" opacity="0.5"/>
<polyline points="164.6,228.97 182.6,228.49 200.6,224.42 218.5,218.84 236.4,223.01" fill="none" stroke="#a01808" stroke-width="0.4" opacity="0.5" stroke-linejoin="round"/>
<polyline points="164.6,226.87 182.6,222.55 200.6,228.62 218.5,220.65 236.4,235.48" fill="none" stroke="#a01808" stroke-width="0.4" opacity="0.5" stroke-linejoin="round"/>
<polyline points="164.6,220.59 182.6,228.15 200.6,228.17 218.5,221.31 236.4,231.72" fill="none" stroke="#a01808" stroke-width="0.4" opacity="0.5" stroke-linejoin="round"/>
<polyline points="164.6,227.18 182.6,217.86 200.6,225.47 218.5,227.64 236.4,227.3" fill="none" stroke="#a01808" stroke-width="0.4" opacity="0.5" stroke-linejoin="round"/>
<polyline points="164.6,229.13 182.6,226.19 200.6,229.92 218.5,220.04 236.4,224.51" fill="none" stroke="#a01808" stroke-width="0.4" opacity="0.5" stroke-linejoin="round"/>
<polyline points="164.6,229.08 182.6,228.2 200.6,223.81 218.5,216.12 236.4,226.19" fill="none" stroke="#a01808" stroke-width="0.4" opacity="0.5" stroke-linejoin="round"/>
<polyline points="164.6,226.42 182.6,219.52 200.6,231.56 218.5,224.13 236.4,226.25" fill="none" stroke="#a01808" stroke-width="0.4" opacity="0.5" stroke-linejoin="round"/>
<polyline points="164.6,226.75 182.6,220.69 200.6,231.27 218.5,229.33 236.4,231.34" fill="none" stroke="#a01808" stroke-width="0.4" opacity="0.5" stroke-linejoin="round"/>
<polyline points="164.6,225 182.6,222 200.6,223 218.5,222 236.4,232" fill="none" stroke="#6a1008" stroke-width="0.5" opacity="0.7" stroke-linejoin="round"/>
<circle cx="164.6" cy="225" r="0.6" fill="#6a1008" opacity="0.7"/>
<circle cx="182.6" cy="222" r="0.6" fill="#6a1008" opacity="0.7"/>
<circle cx="200.6" cy="223" r="0.6" fill="#6a1008" opacity="0.7"/>
<circle cx="218.5" cy="222" r="0.6" fill="#6a1008" opacity="0.7"/>
<circle cx="236.4" cy="232" r="0.6" fill="#6a1008" opacity="0.7"/>
<text x="234.4" y="259.7" font-family='"Liberation Serif", serif' font-size="9" fill="#222" font-weight="normal" text-anchor="end" stroke="#222" stroke-width="0.2">0H</text>
<line x1="182.6" y1="255" x2="182.6" y2="308.3" stroke="#f0f0f0" stroke-width="0.6" opacity="1"/>
<line x1="200.6" y1="255" x2="200.6" y2="308.3" stroke="#f0f0f0" stroke-width="0.6" opacity="1"/>
<line x1="218.5" y1="255" x2="218.5" y2="308.3" stroke="#f0f0f0" stroke-width="0.6" opacity="1"/>
<line x1="236.4" y1="255" x2="236.4" y2="308.3" stroke="#f0f0f0" stroke-width="0.6" opacity="1"/>
<line x1="164.6" y1="254.5" x2="164.6" y2="308.3" stroke="#c4c4c4" stroke-width="0.7" opacity="1"/>
<line x1="162.6" y1="308.3" x2="237.9" y2="308.3" stroke="#c4c4c4" stroke-width="0.8" opacity="1"/>
<line x1="160" y1="255" x2="164.3" y2="255" stroke="#c4c4c4" stroke-width="0.6" opacity="1"/>
<text x="158.6" y="256.5" font-family='"Liberation Sans", sans-serif' font-size="4.3" fill="#6a6a6a" font-weight="normal" text-anchor="end" >100%</text>
<line x1="160" y1="281.65" x2="164.3" y2="281.65" stroke="#c4c4c4" stroke-width="0.6" opacity="1"/>
<text x="158.6" y="283.15" font-family='"Liberation Sans", sans-serif' font-size="4.3" fill="#6a6a6a" font-weight="normal" text-anchor="end" >50%</text>
<line x1="160" y1="308.3" x2="164.3" y2="308.3" stroke="#c4c4c4" stroke-width="0.6" opacity="1"/>
<text x="158.6" y="309.8" font-family='"Liberation Sans", sans-serif' font-size="4.3" fill="#6a6a6a" font-weight="normal" text-anchor="end" >0%</text>
<polyline points="164.6,307 182.6,296 200.6,291.5 218.5,296 236.4,302" fill="none" stroke="#eeeef4" stroke-width="0.5" opacity="0.9" stroke-linejoin="round"/>
<polygon points="164.6,306.5 182.6,305.5 200.6,303.5 218.5,297.5 236.4,289 236.4,303.5 218.5,308 200.6,308.5 182.6,308.5 164.6,308.5" fill="#b8d0e8" opacity="0.8"/>
<polygon points="164.6,307.5 182.6,306.6 200.6,305 218.5,299.2 236.4,290.8 236.4,303 218.5,307.7 200.6,308.5 182.6,308.5 164.6,308.8" fill="#5a8ec4" opacity="0.9"/>
<polyline points="164.6,308.2 182.6,307.5 200.6,306.5 218.5,303 236.4,296" fill="none" stroke="#1a4a8a" stroke-width="0.9" opacity="0.9" stroke-linejoin="round"/>
<polyline points="164.6,308.2 182.6,307.6 200.6,307.5 218.5,305 236.4,299" fill="none" stroke="#1a4a8a" stroke-width="0.6" opacity="0.8" stroke-linejoin="round"/>
<text x="234.4" y="326.6" font-family='"Liberation Serif", serif' font-size="9" fill="#222" font-weight="normal" text-anchor="end" stroke="#222" stroke-width="0.2">LL</text>
<line x1="182.6" y1="315.3" x2="182.6" y2="366.3" stroke="#f0f0f0" stroke-width="0.6" opacity="1"/>
<line x1="200.6" y1="315.3" x2="200.6" y2="366.3" stroke="#f0f0f0" stroke-width="0.6" opacity="1"/>
<line x1="218.5" y1="315.3" x2="218.5" y2="366.3" stroke="#f0f0f0" stroke-width="0.6" opacity="1"/>
<line x1="236.4" y1="315.3" x2="236.4" y2="366.3" stroke="#f0f0f0" stroke-width="0.6" opacity="1"/>
<line x1="164.6" y1="314.8" x2="164.6" y2="366.3" stroke="#c4c4c4" stroke-width="0.7" opacity="1"/>
<line x1="162.6" y1="366.3" x2="237.9" y2="366.3" stroke="#c4c4c4" stroke-width="0.8" opacity="1"/>
<line x1="160" y1="315.3" x2="164.3" y2="315.3" stroke="#c4c4c4" stroke-width="0.6" opacity="1"/>
<text x="158.6" y="316.8" font-family='"Liberation Sans", sans-serif' font-size="4.3" fill="#6a6a6a" font-weight="normal" text-anchor="end" >100%</text>
<line x1="160" y1="340.8" x2="164.3" y2="340.8" stroke="#c4c4c4" stroke-width="0.6" opacity="1"/>
<text x="158.6" y="342.3" font-family='"Liberation Sans", sans-serif' font-size="4.3" fill="#6a6a6a" font-weight="normal" text-anchor="end" >50%</text>
<line x1="160" y1="366.3" x2="164.3" y2="366.3" stroke="#c4c4c4" stroke-width="0.6" opacity="1"/>
<text x="158.6" y="367.8" font-family='"Liberation Sans", sans-serif' font-size="4.3" fill="#6a6a6a" font-weight="normal" text-anchor="end" >0%</text>
<polygon points="164.6,359 182.6,355 200.6,353.8 218.5,355 236.4,358 236.4,365.5 218.5,365.5 200.6,365.5 182.6,365.5 164.6,365.5" fill="#f2eef8" opacity="0.9"/>
<polygon points="164.6,359.5 182.6,359.5 200.6,359.5 218.5,359.5 236.4,359.5 236.4,365.5 218.5,365.5 200.6,365.5 182.6,365.5 164.6,365.5" fill="#d4c0e8" opacity="0.9"/>
<polygon points="164.6,361.5 182.6,361.5 200.6,361.5 218.5,361.5 236.4,361.5 236.4,364.8 218.5,364.8 200.6,364.8 182.6,364.8 164.6,364.8" fill="#9a78c4" opacity="0.95"/>
<text x="165.1" y="377.8" font-family='"Liberation Sans", sans-serif' font-size="9" fill="#111" font-weight="normal" text-anchor="middle" stroke="#111" stroke-width="0.3">a</text>
<text x="183.1" y="377.8" font-family='"Liberation Sans", sans-serif' font-size="9" fill="#111" font-weight="normal" text-anchor="middle" stroke="#111" stroke-width="0.3">b</text>
<text x="200.2" y="377.8" font-family='"Liberation Sans", sans-serif' font-size="9" fill="#111" font-weight="normal" text-anchor="middle" stroke="#111" stroke-width="0.3">c</text>
<text x="217.7" y="377.8" font-family='"Liberation Sans", sans-serif' font-size="9" fill="#111" font-weight="normal" text-anchor="middle" stroke="#111" stroke-width="0.3">d</text>
<text x="235.6" y="377.8" font-family='"Liberation Sans", sans-serif' font-size="9" fill="#111" font-weight="normal" text-anchor="middle" stroke="#111" stroke-width="0.3">e</text>
<text x="198.8" y="390.5" font-family='"Liberation Serif", serif' font-size="9.2" fill="#111" font-weight="normal" text-anchor="middle" stroke="#111" stroke-width="0.15">Samples</text>
<text transform="translate(145.4,158.5) rotate(-90)" font-family='"Liberation Sans", sans-serif' font-size="9" fill="#111" text-anchor="middle" textLength="119.3" lengthAdjust="spacingAndGlyphs">Somatic SNV allele frequency</text>
<line x1="301.6" y1="7.4" x2="301.6" y2="58.4" stroke="#f0f0f0" stroke-width="0.6" opacity="1"/>
<line x1="318.5" y1="7.4" x2="318.5" y2="58.4" stroke="#f0f0f0" stroke-width="0.6" opacity="1"/>
<line x1="335.3" y1="7.4" x2="335.3" y2="58.4" stroke="#f0f0f0" stroke-width="0.6" opacity="1"/>
<line x1="352" y1="7.4" x2="352" y2="58.4" stroke="#f0f0f0" stroke-width="0.6" opacity="1"/>
<line x1="284.7" y1="6.9" x2="284.7" y2="58.4" stroke="#c4c4c4" stroke-width="0.7" opacity="1"/>
<line x1="282.7" y1="58.4" x2="353.5" y2="58.4" stroke="#c4c4c4" stroke-width="0.8" opacity="1"/>
<line x1="280.1" y1="7.4" x2="284.4" y2="7.4" stroke="#c4c4c4" stroke-width="0.6" opacity="1"/>
<text x="278.3" y="8.9" font-family='"Liberation Sans", sans-serif' font-size="4.3" fill="#6a6a6a" font-weight="normal" text-anchor="end" >200</text>
<line x1="280.1" y1="32.9" x2="284.4" y2="32.9" stroke="#c4c4c4" stroke-width="0.6" opacity="1"/>
<text x="278.3" y="34.4" font-family='"Liberation Sans", sans-serif' font-size="4.3" fill="#6a6a6a" font-weight="normal" text-anchor="end" >100</text>
<line x1="280.1" y1="58.4" x2="284.4" y2="58.4" stroke="#c4c4c4" stroke-width="0.6" opacity="1"/>
<text x="278.3" y="59.9" font-family='"Liberation Sans", sans-serif' font-size="4.3" fill="#6a6a6a" font-weight="normal" text-anchor="end" >0</text>
<polyline points="286.2,43.1 294.6,53.4 302.8,43.1 310.8,55.4 318.8,30 335.1,55.4 351.5,45.7" fill="none" stroke="#4a3e8e" stroke-width="1.1" opacity="1" stroke-linejoin="round"/>
<text x="325.4" y="10.5" font-family='"Liberation Sans", sans-serif' font-size="4.3" fill="#222" font-weight="bold" text-anchor="start" >WBC:</text>
<text x="325.4" y="15.7" font-family='"Liberation Sans", sans-serif' font-size="4.3" fill="#222" font-weight="bold" text-anchor="start" >LY:</text>
<line x1="340.4" y1="9.2" x2="347.9" y2="9.2" stroke="#8a92d0" stroke-width="0.7" opacity="1"/>
<line x1="340.4" y1="13.9" x2="347.9" y2="13.9" stroke="#d8a090" stroke-width="0.7" opacity="1"/>
<text transform="translate(264.6,38.1) rotate(-90)" font-family='"Liberation Sans", sans-serif' font-size="6.5" fill="#1a1a1a" text-anchor="middle" textLength="62" lengthAdjust="spacingAndGlyphs">Cell count 10<tspan font-size="4" dy="-2.2">9</tspan><tspan dy="2.2"> cells/litre</tspan></text>
<text x="352.5" y="64.9" font-family='"Liberation Serif", serif' font-size="9" fill="#222" font-weight="normal" text-anchor="end" stroke="#222" stroke-width="0.2">HH</text>
<line x1="301.6" y1="65.9" x2="301.6" y2="116.3" stroke="#f0f0f0" stroke-width="0.6" opacity="1"/>
<line x1="318.5" y1="65.9" x2="318.5" y2="116.3" stroke="#f0f0f0" stroke-width="0.6" opacity="1"/>
<line x1="335.3" y1="65.9" x2="335.3" y2="116.3" stroke="#f0f0f0" stroke-width="0.6" opacity="1"/>
<line x1="352" y1="65.9" x2="352" y2="116.3" stroke="#f0f0f0" stroke-width="0.6" opacity="1"/>
<line x1="284.7" y1="65.4" x2="284.7" y2="116.3" stroke="#c4c4c4" stroke-width="0.7" opacity="1"/>
<line x1="282.7" y1="116.3" x2="353.5" y2="116.3" stroke="#c4c4c4" stroke-width="0.8" opacity="1"/>
<line x1="280.1" y1="65.9" x2="284.4" y2="65.9" stroke="#c4c4c4" stroke-width="0.6" opacity="1"/>
<text x="278.7" y="67.4" font-family='"Liberation Sans", sans-serif' font-size="4.3" fill="#6a6a6a" font-weight="normal" text-anchor="end" >100%</text>
<line x1="280.1" y1="91.1" x2="284.4" y2="91.1" stroke="#c4c4c4" stroke-width="0.6" opacity="1"/>
<text x="278.7" y="92.6" font-family='"Liberation Sans", sans-serif' font-size="4.3" fill="#6a6a6a" font-weight="normal" text-anchor="end" >50%</text>
<line x1="280.1" y1="116.3" x2="284.4" y2="116.3" stroke="#c4c4c4" stroke-width="0.6" opacity="1"/>
<text x="278.7" y="117.8" font-family='"Liberation Sans", sans-serif' font-size="4.3" fill="#6a6a6a" font-weight="normal" text-anchor="end" >0%</text>
<polyline points="284.7,72 301.6,68.9 318.5,68.2 335.3,71.2 352,68.9" fill="none" stroke="#a0a0a0" stroke-width="0.5" opacity="0.9" stroke-linejoin="round"/>
<polyline points="284.7,72 301.6,75.8 318.5,69 335.3,73.5 352,70.5" fill="none" stroke="#a8a8a8" stroke-width="0.5" opacity="0.9" stroke-linejoin="round"/>
<polygon points="284.7,81 301.6,80 318.5,78 335.3,81 352,80 352,87 335.3,87 318.5,85 301.6,87 284.7,87" fill="#fdf0ee" opacity="0.9"/>
<polyline points="284.7,80 301.6,78 318.5,76 335.3,80 352,78" fill="none" stroke="#f6dcd6" stroke-width="0.45" opacity="0.8" stroke-linejoin="round"/>
<polyline points="284.7,82 301.6,84 318.5,80 335.3,79 352,83" fill="none" stroke="#f6dcd6" stroke-width="0.45" opacity="0.8" stroke-linejoin="round"/>
<polyline points="284.7,78 301.6,80 318.5,82 335.3,77 352,79" fill="none" stroke="#f6dcd6" stroke-width="0.45" opacity="0.8" stroke-linejoin="round"/>
<polygon points="284.7,83.74 301.6,83.42 318.5,80.86 335.3,83.72 352,83.12 352,104.88 335.3,104.88 318.5,106.24 301.6,105.17 284.7,104.76" fill="#fde8e4" opacity="0.8"/>
<polygon points="284.7,85.41 301.6,85.15 318.5,82.88 335.3,85.39 352,84.85 352,103.15 335.3,103.21 318.5,104.22 301.6,103.45 284.7,103.09" fill="#f6b4a4" opacity="0.6"/>
<polygon points="284.7,87 301.6,86.8 318.5,84.8 335.3,87 352,86.5 352,101.5 335.3,101.6 318.5,102.3 301.6,101.8 284.7,101.5" fill="#e4402a" opacity="0.88"/>
<polygon points="284.7,89.54 301.6,89.42 318.5,87.86 335.3,89.55 352,89.12 352,98.88 335.3,99.05 318.5,99.24 301.6,99.17 284.7,98.96" fill="#dc3420" opacity="0.6"/>
<polygon points="284.7,92.08 301.6,92.05 318.5,90.92 335.3,92.11 352,91.75 352,96.25 335.3,96.49 318.5,96.17 301.6,96.55 284.7,96.42" fill="#b01c0c" opacity="0.5"/>
<polyline points="284.7,91.7 301.6,89.06 318.5,96.19 335.3,88.06 352,94.54" fill="none" stroke="#901408" stroke-width="0.4" opacity="0.5" stroke-linejoin="round"/>
<polyline points="284.7,92.3 301.6,87.67 318.5,93.68 335.3,87.55 352,93" fill="none" stroke="#901408" stroke-width="0.4" opacity="0.5" stroke-linejoin="round"/>
<polyline points="284.7,88.01 301.6,88.16 318.5,92.23 335.3,99.07 352,88.36" fill="none" stroke="#901408" stroke-width="0.4" opacity="0.5" stroke-linejoin="round"/>
<polyline points="284.7,90.24 301.6,96.21 318.5,101.38 335.3,95.43 352,92.45" fill="none" stroke="#901408" stroke-width="0.4" opacity="0.5" stroke-linejoin="round"/>
<polyline points="284.7,101.16 301.6,87.5 318.5,99.82 335.3,91.23 352,88.66" fill="none" stroke="#901408" stroke-width="0.4" opacity="0.5" stroke-linejoin="round"/>
<polyline points="284.7,88.71 301.6,91.43 318.5,99.08 335.3,89.64 352,95.22" fill="none" stroke="#901408" stroke-width="0.4" opacity="0.5" stroke-linejoin="round"/>
<polyline points="284.7,96.26 301.6,92.39 318.5,94.39 335.3,87.92 352,87.39" fill="none" stroke="#901408" stroke-width="0.4" opacity="0.5" stroke-linejoin="round"/>
<polyline points="284.7,89.99 301.6,97.01 318.5,92.28 335.3,91.59 352,95.28" fill="none" stroke="#901408" stroke-width="0.4" opacity="0.5" stroke-linejoin="round"/>
<polyline points="284.7,95 301.6,94 318.5,93 335.3,95 352,93" fill="none" stroke="#5a0c04" stroke-width="0.5" opacity="0.7" stroke-linejoin="round"/>
<circle cx="284.7" cy="95" r="0.6" fill="#5a0c04" opacity="0.7"/>
<circle cx="301.6" cy="94" r="0.6" fill="#5a0c04" opacity="0.7"/>
<circle cx="318.5" cy="93" r="0.6" fill="#5a0c04" opacity="0.7"/>
<circle cx="335.3" cy="95" r="0.6" fill="#5a0c04" opacity="0.7"/>
<circle cx="352" cy="93" r="0.6" fill="#5a0c04" opacity="0.7"/>
<text x="350.8" y="129.2" font-family='"Liberation Serif", serif' font-size="9" fill="#222" font-weight="normal" text-anchor="end" stroke="#222" stroke-width="0.2">LL</text>
<line x1="301.6" y1="124.8" x2="301.6" y2="174" stroke="#f0f0f0" stroke-width="0.6" opacity="1"/>
<line x1="318.5" y1="124.8" x2="318.5" y2="174" stroke="#f0f0f0" stroke-width="0.6" opacity="1"/>
<line x1="335.3" y1="124.8" x2="335.3" y2="174" stroke="#f0f0f0" stroke-width="0.6" opacity="1"/>
<line x1="352" y1="124.8" x2="352" y2="174" stroke="#f0f0f0" stroke-width="0.6" opacity="1"/>
<line x1="284.7" y1="124.3" x2="284.7" y2="174" stroke="#c4c4c4" stroke-width="0.7" opacity="1"/>
<line x1="282.7" y1="174" x2="353.5" y2="174" stroke="#c4c4c4" stroke-width="0.8" opacity="1"/>
<line x1="280.1" y1="124.8" x2="284.4" y2="124.8" stroke="#c4c4c4" stroke-width="0.6" opacity="1"/>
<text x="278.7" y="126.3" font-family='"Liberation Sans", sans-serif' font-size="4.3" fill="#6a6a6a" font-weight="normal" text-anchor="end" >100%</text>
<line x1="280.1" y1="149.4" x2="284.4" y2="149.4" stroke="#c4c4c4" stroke-width="0.6" opacity="1"/>
<text x="278.7" y="150.9" font-family='"Liberation Sans", sans-serif' font-size="4.3" fill="#6a6a6a" font-weight="normal" text-anchor="end" >50%</text>
<line x1="280.1" y1="174" x2="284.4" y2="174" stroke="#c4c4c4" stroke-width="0.6" opacity="1"/>
<text x="278.7" y="175.5" font-family='"Liberation Sans", sans-serif' font-size="4.3" fill="#6a6a6a" font-weight="normal" text-anchor="end" >0%</text>
<polygon points="284.7,153.48 301.6,152.68 318.5,145.28 335.3,142.86 352,141.9 352,163.6 335.3,163.44 318.5,165.72 301.6,168.92 284.7,169.72" fill="#e4eef8" opacity="0.8"/>
<polygon points="284.7,154.76 301.6,153.96 318.5,146.89 335.3,144.48 352,143.6 352,161.9 335.3,161.82 318.5,164.11 301.6,167.64 284.7,168.44" fill="#bcd4ec" opacity="0.6"/>
<polygon points="284.7,155.8 301.6,155 318.5,148.2 335.3,145.8 352,145 352,160.5 335.3,160.5 318.5,162.8 301.6,166.6 284.7,167.4" fill="#7aa6d2" opacity="0.88"/>
<polygon points="284.7,158.12 301.6,157.32 318.5,151.12 335.3,148.74 352,148.1 352,157.4 335.3,157.56 318.5,159.88 301.6,164.28 284.7,165.08" fill="#5a8cc4" opacity="0.45"/>
<polyline points="284.7,158.43 301.6,166.16 318.5,150.04 335.3,156.16 352,146.32" fill="none" stroke="#3a6aa8" stroke-width="0.4" opacity="0.5" stroke-linejoin="round"/>
<polyline points="284.7,158.67 301.6,166.59 318.5,151.26 335.3,155.24 352,152.12" fill="none" stroke="#3a6aa8" stroke-width="0.4" opacity="0.5" stroke-linejoin="round"/>
<polyline points="284.7,161.06 301.6,160.74 318.5,151.01 335.3,158.01 352,146.39" fill="none" stroke="#3a6aa8" stroke-width="0.4" opacity="0.5" stroke-linejoin="round"/>
<polyline points="284.7,158.52 301.6,155.23 318.5,152.09 335.3,151.79 352,158.98" fill="none" stroke="#3a6aa8" stroke-width="0.4" opacity="0.5" stroke-linejoin="round"/>
<polyline points="284.7,160.2 301.6,156.32 318.5,151.97 335.3,160.38 352,145.98" fill="none" stroke="#3a6aa8" stroke-width="0.4" opacity="0.5" stroke-linejoin="round"/>
<polyline points="284.7,162.99 301.6,159.38 318.5,157.85 335.3,150.78 352,155.72" fill="none" stroke="#3a6aa8" stroke-width="0.4" opacity="0.5" stroke-linejoin="round"/>
<polyline points="284.7,161.57 301.6,162.54 318.5,161.36 335.3,154.35 352,147.2" fill="none" stroke="#3a6aa8" stroke-width="0.4" opacity="0.5" stroke-linejoin="round"/>
<polyline points="284.7,156.55 301.6,165.97 318.5,155.33 335.3,148.65 352,159.66" fill="none" stroke="#3a6aa8" stroke-width="0.4" opacity="0.5" stroke-linejoin="round"/>
<polyline points="284.7,162.52 301.6,163.46 318.5,161.06 335.3,150 352,150.53" fill="none" stroke="#3a6aa8" stroke-width="0.4" opacity="0.5" stroke-linejoin="round"/>
<polyline points="284.7,165.99 301.6,156.57 318.5,159.36 335.3,147.23 352,155.7" fill="none" stroke="#3a6aa8" stroke-width="0.4" opacity="0.5" stroke-linejoin="round"/>
<text x="350.8" y="184.1" font-family='"Liberation Serif", serif' font-size="9" fill="#222" font-weight="normal" text-anchor="end" stroke="#222" stroke-width="0.2">LL</text>
<line x1="301.6" y1="182.5" x2="301.6" y2="232" stroke="#f0f0f0" stroke-width="0.6" opacity="1"/>
<line x1="318.5" y1="182.5" x2="318.5" y2="232" stroke="#f0f0f0" stroke-width="0.6" opacity="1"/>
<line x1="335.3" y1="182.5" x2="335.3" y2="232" stroke="#f0f0f0" stroke-width="0.6" opacity="1"/>
<line x1="352" y1="182.5" x2="352" y2="232" stroke="#f0f0f0" stroke-width="0.6" opacity="1"/>
<line x1="284.7" y1="182" x2="284.7" y2="232" stroke="#c4c4c4" stroke-width="0.7" opacity="1"/>
<line x1="282.7" y1="232" x2="353.5" y2="232" stroke="#c4c4c4" stroke-width="0.8" opacity="1"/>
<line x1="280.1" y1="182.5" x2="284.4" y2="182.5" stroke="#c4c4c4" stroke-width="0.6" opacity="1"/>
<text x="278.7" y="184" font-family='"Liberation Sans", sans-serif' font-size="4.3" fill="#6a6a6a" font-weight="normal" text-anchor="end" >100%</text>
<line x1="280.1" y1="207.25" x2="284.4" y2="207.25" stroke="#c4c4c4" stroke-width="0.6" opacity="1"/>
<text x="278.7" y="208.75" font-family='"Liberation Sans", sans-serif' font-size="4.3" fill="#6a6a6a" font-weight="normal" text-anchor="end" >50%</text>
<line x1="280.1" y1="232" x2="284.4" y2="232" stroke="#c4c4c4" stroke-width="0.6" opacity="1"/>
<text x="278.7" y="233.5" font-family='"Liberation Sans", sans-serif' font-size="4.3" fill="#6a6a6a" font-weight="normal" text-anchor="end" >0%</text>
<polyline points="284.7,220 301.6,215 318.5,219 335.3,218 352,222" fill="none" stroke="#f0f0f0" stroke-width="0.5" opacity="0.8" stroke-linejoin="round"/>
<polygon points="284.7,223.8 301.6,225.4 318.5,227 335.3,225.4 352,224.6 352,231.8 335.3,231.8 318.5,231.8 301.6,231.8 284.7,231.8" fill="#bcdeb4" opacity="0.9"/>
<polygon points="284.7,228.5 301.6,228.7 318.5,229 335.3,228.5 352,228.5 352,231 335.3,231 318.5,231 301.6,231 284.7,231" fill="#5a9a50" opacity="0.9"/>
<text x="283.9" y="243.2" font-family='"Liberation Sans", sans-serif' font-size="9" fill="#111" font-weight="normal" text-anchor="middle" stroke="#111" stroke-width="0.3">a</text>
<text x="301.7" y="243.2" font-family='"Liberation Sans", sans-serif' font-size="9" fill="#111" font-weight="normal" text-anchor="middle" stroke="#111" stroke-width="0.3">b</text>
<text x="319.2" y="243.2" font-family='"Liberation Sans", sans-serif' font-size="9" fill="#111" font-weight="normal" text-anchor="middle" stroke="#111" stroke-width="0.3">c</text>
<text x="336.6" y="243.2" font-family='"Liberation Sans", sans-serif' font-size="9" fill="#111" font-weight="normal" text-anchor="middle" stroke="#111" stroke-width="0.3">d</text>
<text x="353.6" y="243.2" font-family='"Liberation Sans", sans-serif' font-size="9" fill="#111" font-weight="normal" text-anchor="middle" stroke="#111" stroke-width="0.3">e</text>
<text x="320" y="259.8" font-family='"Liberation Serif", serif' font-size="9.2" fill="#111" font-weight="normal" text-anchor="middle" stroke="#111" stroke-width="0.15">Samples</text>
<text transform="translate(264.4,157.8) rotate(-90)" font-family='"Liberation Sans", sans-serif' font-size="9" fill="#111" text-anchor="middle" textLength="119" lengthAdjust="spacingAndGlyphs">Somatic SNV allele frequency</text>
<line x1="420.8" y1="2.5" x2="420.8" y2="55.3" stroke="#f0f0f0" stroke-width="0.6" opacity="1"/>
<line x1="436.8" y1="2.5" x2="436.8" y2="55.3" stroke="#f0f0f0" stroke-width="0.6" opacity="1"/>
<line x1="452.8" y1="2.5" x2="452.8" y2="55.3" stroke="#f0f0f0" stroke-width="0.6" opacity="1"/>
<line x1="468.7" y1="2.5" x2="468.7" y2="55.3" stroke="#f0f0f0" stroke-width="0.6" opacity="1"/>
<line x1="404.8" y1="2" x2="404.8" y2="55.3" stroke="#c4c4c4" stroke-width="0.7" opacity="1"/>
<line x1="402.8" y1="55.3" x2="470.2" y2="55.3" stroke="#c4c4c4" stroke-width="0.8" opacity="1"/>
<line x1="400.2" y1="2.5" x2="404.5" y2="2.5" stroke="#c4c4c4" stroke-width="0.6" opacity="1"/>
<text x="398.8" y="4" font-family='"Liberation Sans", sans-serif' font-size="4.3" fill="#6a6a6a" font-weight="normal" text-anchor="end" >100%</text>
<line x1="400.2" y1="28.9" x2="404.5" y2="28.9" stroke="#c4c4c4" stroke-width="0.6" opacity="1"/>
<text x="398.8" y="30.4" font-family='"Liberation Sans", sans-serif' font-size="4.3" fill="#6a6a6a" font-weight="normal" text-anchor="end" >50%</text>
<line x1="400.2" y1="55.3" x2="404.5" y2="55.3" stroke="#c4c4c4" stroke-width="0.6" opacity="1"/>
<text x="398.8" y="56.8" font-family='"Liberation Sans", sans-serif' font-size="4.3" fill="#6a6a6a" font-weight="normal" text-anchor="end" >0%</text>
<text x="470.6" y="14.6" font-family='"Liberation Serif", serif' font-size="9" fill="#222" text-anchor="end">HH<tspan font-size="4.6" dy="-3.8">F</tspan></text>
<polygon points="404.8,28.9 420.8,28.9 436.8,37.6 452.8,30.5 468.7,28.9 468.7,31.2 452.8,32.8 436.8,39 420.8,31.2 404.8,32" fill="#e6dcd8" opacity="0.95"/>
<polyline points="404.8,28.9 420.8,28.9 436.8,37.6 452.8,30.5 468.7,28.9" fill="none" stroke="#c0b0ac" stroke-width="0.45" opacity="0.9" stroke-linejoin="round"/>
<polyline points="404.8,32 420.8,31.2 436.8,39 452.8,32.8 468.7,31.2" fill="none" stroke="#c0b0ac" stroke-width="0.45" opacity="0.9" stroke-linejoin="round"/>
<rect x="472.3" y="27.3" width="3.9" height="3.4" fill="#7a2020"/>
<line x1="420.8" y1="62.4" x2="420.8" y2="115.2" stroke="#f0f0f0" stroke-width="0.6" opacity="1"/>
<line x1="436.8" y1="62.4" x2="436.8" y2="115.2" stroke="#f0f0f0" stroke-width="0.6" opacity="1"/>
<line x1="452.8" y1="62.4" x2="452.8" y2="115.2" stroke="#f0f0f0" stroke-width="0.6" opacity="1"/>
<line x1="468.7" y1="62.4" x2="468.7" y2="115.2" stroke="#f0f0f0" stroke-width="0.6" opacity="1"/>
<line x1="404.8" y1="61.9" x2="404.8" y2="115.2" stroke="#c4c4c4" stroke-width="0.7" opacity="1"/>
<line x1="402.8" y1="115.2" x2="470.2" y2="115.2" stroke="#c4c4c4" stroke-width="0.8" opacity="1"/>
<line x1="400.2" y1="62.4" x2="404.5" y2="62.4" stroke="#c4c4c4" stroke-width="0.6" opacity="1"/>
<text x="398.8" y="63.9" font-family='"Liberation Sans", sans-serif' font-size="4.3" fill="#6a6a6a" font-weight="normal" text-anchor="end" >100%</text>
<line x1="400.2" y1="88.8" x2="404.5" y2="88.8" stroke="#c4c4c4" stroke-width="0.6" opacity="1"/>
<text x="398.8" y="90.3" font-family='"Liberation Sans", sans-serif' font-size="4.3" fill="#6a6a6a" font-weight="normal" text-anchor="end" >50%</text>
<line x1="400.2" y1="115.2" x2="404.5" y2="115.2" stroke="#c4c4c4" stroke-width="0.6" opacity="1"/>
<text x="398.8" y="116.7" font-family='"Liberation Sans", sans-serif' font-size="4.3" fill="#6a6a6a" font-weight="normal" text-anchor="end" >0%</text>
<text x="468.2" y="66.2" font-family='"Liberation Serif", serif' font-size="9" fill="#222" font-weight="normal" text-anchor="end" stroke="#222" stroke-width="0.2">HL</text>
<polyline points="404.8,76.1 420.8,71.2 436.8,110.8 452.8,114.6 468.7,115.2" fill="none" stroke="#e4b4bc" stroke-width="0.7" opacity="1" stroke-linejoin="round"/>
<polygon points="404.8,92.3 420.8,89.8 436.8,110.2 452.8,114 468.7,115 468.7,115.4 452.8,115 436.8,112 420.8,92 404.8,94.3" fill="#dccccc" opacity="0.95"/>
<polyline points="404.8,92.3 420.8,89.8 436.8,110.2 452.8,114 468.7,115" fill="none" stroke="#b09c9c" stroke-width="0.45" opacity="0.9" stroke-linejoin="round"/>
<polyline points="404.8,94.3 420.8,92 436.8,112 452.8,115 468.7,115.4" fill="none" stroke="#b09c9c" stroke-width="0.45" opacity="0.9" stroke-linejoin="round"/>
<rect x="468.6" y="85.6" width="7.8" height="7" rx="3" fill="#f6f8dc"/>
<rect x="469.8" y="86.8" width="5.3" height="4.8" fill="#6a7030"/>
<rect x="471.1" y="88.1" width="2.7" height="2.2" fill="#e8ecc0"/>
<line x1="420.8" y1="121.9" x2="420.8" y2="174" stroke="#f0f0f0" stroke-width="0.6" opacity="1"/>
<line x1="436.8" y1="121.9" x2="436.8" y2="174" stroke="#f0f0f0" stroke-width="0.6" opacity="1"/>
<line x1="452.8" y1="121.9" x2="452.8" y2="174" stroke="#f0f0f0" stroke-width="0.6" opacity="1"/>
<line x1="468.7" y1="121.9" x2="468.7" y2="174" stroke="#f0f0f0" stroke-width="0.6" opacity="1"/>
<line x1="404.8" y1="121.4" x2="404.8" y2="174" stroke="#c4c4c4" stroke-width="0.7" opacity="1"/>
<line x1="402.8" y1="174" x2="470.2" y2="174" stroke="#c4c4c4" stroke-width="0.8" opacity="1"/>
<line x1="400.2" y1="121.9" x2="404.5" y2="121.9" stroke="#c4c4c4" stroke-width="0.6" opacity="1"/>
<text x="398.8" y="123.4" font-family='"Liberation Sans", sans-serif' font-size="4.3" fill="#6a6a6a" font-weight="normal" text-anchor="end" >100%</text>
<line x1="400.2" y1="147.95" x2="404.5" y2="147.95" stroke="#c4c4c4" stroke-width="0.6" opacity="1"/>
<text x="398.8" y="149.45" font-family='"Liberation Sans", sans-serif' font-size="4.3" fill="#6a6a6a" font-weight="normal" text-anchor="end" >50%</text>
<line x1="400.2" y1="174" x2="404.5" y2="174" stroke="#c4c4c4" stroke-width="0.6" opacity="1"/>
<text x="398.8" y="175.5" font-family='"Liberation Sans", sans-serif' font-size="4.3" fill="#6a6a6a" font-weight="normal" text-anchor="end" >0%</text>
<text x="467.4" y="129.6" font-family='"Liberation Serif", serif' font-size="9" fill="#222" font-weight="normal" text-anchor="end" stroke="#222" stroke-width="0.2">LH</text>
<polygon points="404.8,170.8 420.8,172 436.8,157.8 452.8,148.6 468.7,147 468.7,149.2 452.8,150.8 436.8,159.6 420.8,173.6 404.8,172.4" fill="#dcdcdc" opacity="0.95"/>
<polyline points="404.8,170.8 420.8,172 436.8,157.8 452.8,148.6 468.7,147" fill="none" stroke="#b8b8b8" stroke-width="0.45" opacity="0.9" stroke-linejoin="round"/>
<polyline points="404.8,172.4 420.8,173.6 436.8,159.6 452.8,150.8 468.7,149.2" fill="none" stroke="#b8b8b8" stroke-width="0.45" opacity="0.9" stroke-linejoin="round"/>
<rect x="472" y="146.3" width="4.2" height="4" fill="#1d5a48"/>
<rect x="473.4" y="147.6" width="1.4" height="1.4" fill="#9ab8a8"/>
<line x1="420.8" y1="182.4" x2="420.8" y2="234.2" stroke="#f0f0f0" stroke-width="0.6" opacity="1"/>
<line x1="436.8" y1="182.4" x2="436.8" y2="234.2" stroke="#f0f0f0" stroke-width="0.6" opacity="1"/>
<line x1="452.8" y1="182.4" x2="452.8" y2="234.2" stroke="#f0f0f0" stroke-width="0.6" opacity="1"/>
<line x1="468.7" y1="182.4" x2="468.7" y2="234.2" stroke="#f0f0f0" stroke-width="0.6" opacity="1"/>
<line x1="404.8" y1="181.9" x2="404.8" y2="234.2" stroke="#c4c4c4" stroke-width="0.7" opacity="1"/>
<line x1="402.8" y1="234.2" x2="470.2" y2="234.2" stroke="#c4c4c4" stroke-width="0.8" opacity="1"/>
<line x1="400.2" y1="182.4" x2="404.5" y2="182.4" stroke="#c4c4c4" stroke-width="0.6" opacity="1"/>
<text x="398.8" y="183.9" font-family='"Liberation Sans", sans-serif' font-size="4.3" fill="#6a6a6a" font-weight="normal" text-anchor="end" >100%</text>
<line x1="400.2" y1="208.3" x2="404.5" y2="208.3" stroke="#c4c4c4" stroke-width="0.6" opacity="1"/>
<text x="398.8" y="209.8" font-family='"Liberation Sans", sans-serif' font-size="4.3" fill="#6a6a6a" font-weight="normal" text-anchor="end" >50%</text>
<line x1="400.2" y1="234.2" x2="404.5" y2="234.2" stroke="#c4c4c4" stroke-width="0.6" opacity="1"/>
<text x="398.8" y="235.7" font-family='"Liberation Sans", sans-serif' font-size="4.3" fill="#6a6a6a" font-weight="normal" text-anchor="end" >0%</text>
<text x="467.2" y="182.1" font-family='"Liberation Serif", serif' font-size="9" fill="#222" font-weight="normal" text-anchor="end" stroke="#222" stroke-width="0.2">0H</text>
<polygon points="404.8,233.5 420.8,233.5 436.8,220.4 452.8,209.5 468.7,207.8 468.7,210.8 452.8,212.4 436.8,222.4 420.8,234.2 404.8,234.2" fill="#d8d8d8" opacity="0.95"/>
<polyline points="404.8,233.5 420.8,233.5 436.8,220.4 452.8,209.5 468.7,207.8" fill="none" stroke="#b0b0b0" stroke-width="0.45" opacity="0.9" stroke-linejoin="round"/>
<polyline points="404.8,234.2 420.8,234.2 436.8,222.4 452.8,212.4 468.7,210.8" fill="none" stroke="#b0b0b0" stroke-width="0.45" opacity="0.9" stroke-linejoin="round"/>
<rect x="473.3" y="206.6" width="3.8" height="3.9" fill="#1a3050"/>
<rect x="474.5" y="207.85" width="1.4" height="1.4" fill="#8898b0"/>
<text x="404" y="243.6" font-family='"Liberation Sans", sans-serif' font-size="9" fill="#111" font-weight="normal" text-anchor="middle" stroke="#111" stroke-width="0.3">a</text>
<text x="422" y="243.6" font-family='"Liberation Sans", sans-serif' font-size="9" fill="#111" font-weight="normal" text-anchor="middle" stroke="#111" stroke-width="0.3">b</text>
<text x="437.2" y="243.6" font-family='"Liberation Sans", sans-serif' font-size="9" fill="#111" font-weight="normal" text-anchor="middle" stroke="#111" stroke-width="0.3">c</text>
<text x="454.2" y="243.6" font-family='"Liberation Sans", sans-serif' font-size="9" fill="#111" font-weight="normal" text-anchor="middle" stroke="#111" stroke-width="0.3">d</text>
<text x="469.4" y="243.6" font-family='"Liberation Sans", sans-serif' font-size="9" fill="#111" font-weight="normal" text-anchor="middle" stroke="#111" stroke-width="0.3">e</text>
<text x="437.6" y="258.8" font-family='"Liberation Serif", serif' font-size="9.2" fill="#111" font-weight="normal" text-anchor="middle" stroke="#111" stroke-width="0.15">Samples</text>
<text transform="translate(377.2,160.9) rotate(-90)" font-family='"Liberation Sans", sans-serif' font-size="9" fill="#111" text-anchor="middle" textLength="119" lengthAdjust="spacingAndGlyphs">Somatic SNV allele frequency</text>
<line x1="483.2" y1="15.3" x2="491.2" y2="15.3" stroke="#e06070" stroke-width="0.8" opacity="0.75"/>
<circle cx="487.5" cy="15.3" r="1.0" fill="#a01828"/>
<text x="494.7" y="16.8" font-family='"Liberation Sans", sans-serif' font-size="4.3" fill="#2a2a2a" font-weight="normal" text-anchor="start" >ADAD1</text>
<line x1="483.2" y1="20.4" x2="491.2" y2="20.4" stroke="#6090c8" stroke-width="0.8" opacity="0.75"/>
<circle cx="487.5" cy="20.4" r="1.0" fill="#1a4a8a"/>
<text x="494.7" y="21.9" font-family='"Liberation Sans", sans-serif' font-size="4.3" fill="#2a2a2a" font-weight="normal" text-anchor="start" >SHROOM1</text>
<line x1="483.2" y1="25.3" x2="491.2" y2="25.3" stroke="#50a890" stroke-width="0.8" opacity="0.75"/>
<circle cx="487.5" cy="25.3" r="1.0" fill="#1a7a5a"/>
<text x="494.7" y="26.8" font-family='"Liberation Sans", sans-serif' font-size="4.3" fill="#2a2a2a" font-weight="normal" text-anchor="start" >SF3B1</text>
<line x1="483.2" y1="30.4" x2="491.2" y2="30.4" stroke="#9070c0" stroke-width="0.8" opacity="0.75"/>
<circle cx="487.5" cy="30.4" r="1.0" fill="#4a2a80"/>
<text x="494.7" y="31.9" font-family='"Liberation Sans", sans-serif' font-size="4.3" fill="#2a2a2a" font-weight="normal" text-anchor="start" >HERC2</text>
<line x1="483.2" y1="35.5" x2="491.2" y2="35.5" stroke="#e8b880" stroke-width="0.8" opacity="0.75"/>
<circle cx="487.5" cy="35.5" r="1.0" fill="#a06a30"/>
<text x="494.7" y="37" font-family='"Liberation Sans", sans-serif' font-size="4.3" fill="#2a2a2a" font-weight="normal" text-anchor="start" >CHTF8</text>
<line x1="483.2" y1="40.7" x2="491.2" y2="40.7" stroke="#a08060" stroke-width="0.8" opacity="0.75"/>
<circle cx="487.5" cy="40.7" r="1.0" fill="#3a2010"/>
<text x="494.7" y="42.2" font-family='"Liberation Sans", sans-serif' font-size="4.3" fill="#2a2a2a" font-weight="normal" text-anchor="start" >IL11RA</text>
<line x1="484.6" y1="71.4" x2="492.6" y2="71.4" stroke="#e05070" stroke-width="0.8" opacity="0.75"/>
<circle cx="488.9" cy="71.4" r="1.0" fill="#b01838"/>
<text x="496.6" y="72.9" font-family='"Liberation Sans", sans-serif' font-size="4.3" fill="#2a2a2a" font-weight="normal" text-anchor="start" >ATM</text>
<line x1="484.6" y1="76.5" x2="492.6" y2="76.5" stroke="#40a8b8" stroke-width="0.8" opacity="0.75"/>
<circle cx="488.9" cy="76.5" r="1.0" fill="#107080"/>
<text x="496.6" y="78" font-family='"Liberation Sans", sans-serif' font-size="4.3" fill="#2a2a2a" font-weight="normal" text-anchor="start" >AMTN</text>
<line x1="484.6" y1="81.6" x2="492.6" y2="81.6" stroke="#70b870" stroke-width="0.8" opacity="0.75"/>
<circle cx="488.9" cy="81.6" r="1.0" fill="#2a802a"/>
<text x="496.6" y="83.1" font-family='"Liberation Sans", sans-serif' font-size="4.3" fill="#2a2a2a" font-weight="normal" text-anchor="start" >APBB2</text>
<line x1="484.6" y1="86.7" x2="492.6" y2="86.7" stroke="#9080b8" stroke-width="0.8" opacity="0.75"/>
<circle cx="488.9" cy="86.7" r="1.0" fill="#4a3a80"/>
<text x="496.6" y="88.2" font-family='"Liberation Sans", sans-serif' font-size="4.3" fill="#2a2a2a" font-weight="normal" text-anchor="start" >MTUS1</text>
<line x1="484.6" y1="91.8" x2="492.6" y2="91.8" stroke="#f0b080" stroke-width="0.8" opacity="0.75"/>
<circle cx="488.9" cy="91.8" r="1.0" fill="#b87040"/>
<text x="496.6" y="93.3" font-family='"Liberation Sans", sans-serif' font-size="4.3" fill="#2a2a2a" font-weight="normal" text-anchor="start" >SPTAN1</text>
<line x1="484.6" y1="96.9" x2="492.6" y2="96.9" stroke="#b07060" stroke-width="0.8" opacity="0.75"/>
<circle cx="488.9" cy="96.9" r="1.0" fill="#5a2010"/>
<text x="496.6" y="98.4" font-family='"Liberation Sans", sans-serif' font-size="4.3" fill="#2a2a2a" font-weight="normal" text-anchor="start" >PLEKHG5</text>
<line x1="484.6" y1="102" x2="492.6" y2="102" stroke="#f0a0c0" stroke-width="0.8" opacity="0.75"/>
<circle cx="488.9" cy="102" r="1.0" fill="#d06090"/>
<text x="496.6" y="103.5" font-family='"Liberation Sans", sans-serif' font-size="4.3" fill="#2a2a2a" font-weight="normal" text-anchor="start" >BPIL2</text>
<line x1="484.6" y1="144.5" x2="492.6" y2="144.5" stroke="#e05070" stroke-width="0.8" opacity="0.75"/>
<circle cx="488.9" cy="144.5" r="1.0" fill="#901030"/>
<text x="496.6" y="146" font-family='"Liberation Sans", sans-serif' font-size="4.3" fill="#2a2a2a" font-weight="normal" text-anchor="start" >ASXL1</text>
<line x1="484.6" y1="149.6" x2="492.6" y2="149.6" stroke="#6088c0" stroke-width="0.8" opacity="0.75"/>
<circle cx="488.9" cy="149.6" r="1.0" fill="#1a4a7a"/>
<text x="496.6" y="151.1" font-family='"Liberation Sans", sans-serif' font-size="4.3" fill="#2a2a2a" font-weight="normal" text-anchor="start" >MUSK</text>
<line x1="484.6" y1="154.6" x2="492.6" y2="154.6" stroke="#60a878" stroke-width="0.8" opacity="0.75"/>
<circle cx="488.9" cy="154.6" r="1.0" fill="#1a6a3a"/>
<text x="496.6" y="156.1" font-family='"Liberation Sans", sans-serif' font-size="4.3" fill="#2a2a2a" font-weight="normal" text-anchor="start" >SEMA3E</text>
<line x1="483.2" y1="199" x2="491.2" y2="199" stroke="#e05070" stroke-width="0.8" opacity="0.75"/>
<circle cx="487.5" cy="199" r="1.0" fill="#a01030"/>
<text x="494.7" y="200.5" font-family='"Liberation Sans", sans-serif' font-size="4.3" fill="#2a2a2a" font-weight="normal" text-anchor="start" >CHRNB2</text>
<line x1="483.2" y1="204.1" x2="491.2" y2="204.1" stroke="#40a8a8" stroke-width="0.8" opacity="0.75"/>
<circle cx="487.5" cy="204.1" r="1.0" fill="#107070"/>
<text x="494.7" y="205.6" font-family='"Liberation Sans", sans-serif' font-size="4.3" fill="#2a2a2a" font-weight="normal" text-anchor="start" >FAT3</text>
<line x1="483.2" y1="209.2" x2="491.2" y2="209.2" stroke="#60b060" stroke-width="0.8" opacity="0.75"/>
<circle cx="487.5" cy="209.2" r="1.0" fill="#2a802a"/>
<text x="494.7" y="210.7" font-family='"Liberation Sans", sans-serif' font-size="4.3" fill="#2a2a2a" font-weight="normal" text-anchor="start" >NRG3</text>
<line x1="483.2" y1="214.3" x2="491.2" y2="214.3" stroke="#9060b0" stroke-width="0.8" opacity="0.75"/>
<circle cx="487.5" cy="214.3" r="1.0" fill="#4a1a70"/>
<text x="494.7" y="215.8" font-family='"Liberation Sans", sans-serif' font-size="4.3" fill="#2a2a2a" font-weight="normal" text-anchor="start" >NPY</text></svg></body></html>
